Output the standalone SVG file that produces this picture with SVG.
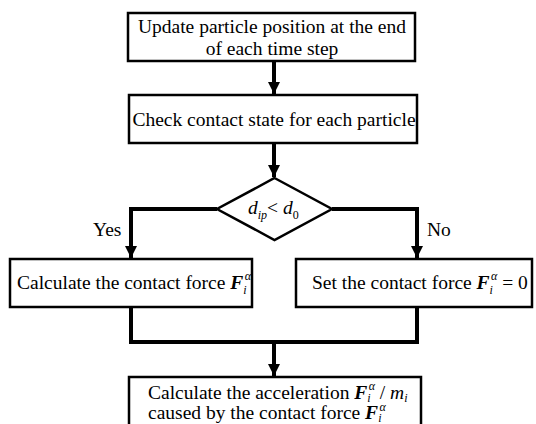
<svg xmlns="http://www.w3.org/2000/svg" width="536" height="424" viewBox="0 0 536 424">
  <style>
    .box { fill: #ffffff; stroke: #000000; stroke-width: 2.5; }
    .wire { fill: none; stroke: #000000; stroke-width: 4; }
    .t { font-family: "Liberation Serif", "Times New Roman", serif; font-size: 19.5px; fill: #000000; }
    .mid { text-anchor: middle; }
    .vb { font-weight: bold; font-style: italic; }
    .vi { font-style: italic; }
    .sm { font-size: 12px; }
  </style>
  <defs>
    <marker id="arrow" markerUnits="userSpaceOnUse" markerWidth="14" markerHeight="14" refX="12" refY="6" orient="auto">
      <path d="M0,0 L12,6 L0,12 Z" fill="#000000"/>
    </marker>
  </defs>

  <rect width="536" height="424" fill="#ffffff"/>

  <!-- connectors -->
  <g id="connectors">
    <path class="wire" d="M274,61 L274,94" marker-end="url(#arrow)"/>
    <path class="wire" d="M274,143 L274,177" marker-end="url(#arrow)"/>
    <path class="wire" d="M217,209 L131,209 L131,258" marker-end="url(#arrow)"/>
    <path class="wire" d="M332,209 L417,209 L417,258" marker-end="url(#arrow)"/>
    <path class="wire" d="M131,307 L131,342 L417,342 L417,307"/>
    <path class="wire" d="M274,342 L274,376" marker-end="url(#arrow)"/>
    <text class="t" x="93" y="236">Yes</text>
    <text class="t" x="427" y="236">No</text>
  </g>

  <!-- update positions -->
  <g id="update">
    <rect class="box" x="128" y="13" width="287" height="48"/>
    <text class="t mid" x="272" y="33">Update particle position at the end</text>
    <text class="t mid" x="272" y="55">of each time step</text>
  </g>

  <!-- contact check -->
  <g id="check">
    <rect class="box" x="129" y="95" width="288" height="48"/>
    <text class="t mid" x="274" y="126">Check contact state for each particle</text>
  </g>

  <!-- distance test -->
  <g id="decision">
    <path class="box" d="M274.5,178 L332,209 L274.5,240 L217,209 Z"/>
    <text class="t" x="248" y="214" font-size="21"><tspan class="vi">d</tspan><tspan class="vi sm" dy="5">ip</tspan><tspan dy="-5">&lt; </tspan><tspan class="vi">d</tspan><tspan class="sm" dy="5">0</tspan></text>
  </g>

  <!-- contact branch -->
  <g id="contact-force">
    <rect class="box" x="10" y="259" width="242" height="48"/>
    <text class="t" x="17" y="289">Calculate the contact force <tspan class="vb">F</tspan><tspan class="vi sm" dy="5">i</tspan><tspan class="vi sm" dx="-2" dy="-14">α</tspan></text>
  </g>

  <!-- no-contact branch -->
  <g id="zero-force">
    <rect class="box" x="296" y="259" width="236" height="48"/>
    <text class="t" x="312" y="289">Set the contact force <tspan class="vb">F</tspan><tspan class="vi sm" dy="5">i</tspan><tspan class="vi sm" dx="-2" dy="-14">α</tspan><tspan dy="9"> = 0</tspan></text>
  </g>

  <!-- acceleration -->
  <g id="acceleration">
    <rect class="box" x="129" y="377" width="292" height="60"/>
    <text class="t" x="148" y="399">Calculate the acceleration <tspan class="vb">F</tspan><tspan class="vi sm" dy="3">i</tspan><tspan class="vi sm" dx="-2" dy="-12">α</tspan><tspan dy="9"> / </tspan><tspan class="vi">m</tspan><tspan class="vi sm" dy="3">i</tspan></text>
    <text class="t" x="148" y="419">caused by the contact force <tspan class="vb">F</tspan><tspan class="vi sm" dy="3">i</tspan><tspan class="vi sm" dx="-2" dy="-11">α</tspan></text>
  </g>
</svg>
